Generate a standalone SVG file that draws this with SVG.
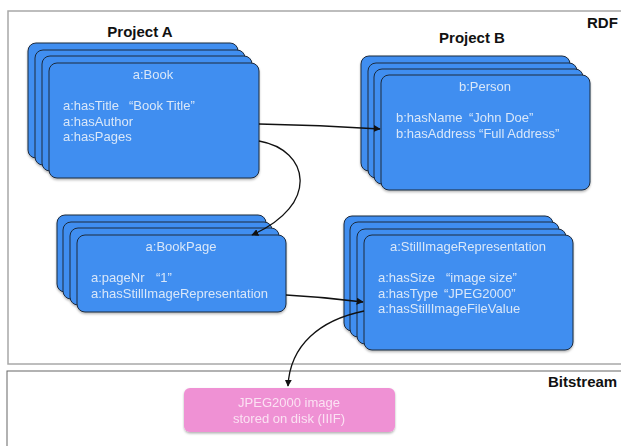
<svg xmlns="http://www.w3.org/2000/svg" width="621" height="446" viewBox="0 0 621 446">
<style>
.card{fill:#3f8ef0;stroke:#1c2a3c;stroke-width:1}
.ct{font-family:"Liberation Sans",Arial,sans-serif;font-size:13px;fill:#d9e7f9}
.ttl{font-family:"Liberation Sans",Arial,sans-serif;font-size:15px;font-weight:bold;fill:#111}
.conn{fill:none;stroke:#111;stroke-width:1.3}
.pt{font-family:"Liberation Sans",Arial,sans-serif;font-size:13px;fill:#fbe2f3}
</style>
<defs>
<marker id="ah" viewBox="0 0 10 10" refX="9" refY="5" markerWidth="7" markerHeight="7" markerUnits="userSpaceOnUse" orient="auto">
<path d="M0,0 L10,5 L0,10 z" fill="#111"/>
</marker>
<filter id="sh" x="-5%" y="-5%" width="112%" height="115%">
<feDropShadow dx="0" dy="1.5" stdDeviation="1.2" flood-color="#000" flood-opacity="0.3"/>
</filter>
</defs>
<rect width="621" height="446" fill="#fff"/>
<g id="frames">
<rect x="8" y="11" width="622" height="353" fill="none" stroke="#a8a8a8" stroke-width="1.5"/>
<rect x="7" y="371" width="622" height="90" fill="none" stroke="#666" stroke-width="1"/>
<text class="ttl" x="587" y="28">RDF</text>
<text class="ttl" x="548" y="387">Bitstream</text>
<text class="ttl" x="140" y="37" text-anchor="middle">Project A</text>
<text class="ttl" x="472" y="43" text-anchor="middle">Project B</text>
</g>
<g id="book" filter="url(#sh)">
<rect class="card" x="28" y="43" width="210" height="115" rx="8"/>
<rect class="card" x="35" y="50" width="210" height="115" rx="8"/>
<rect class="card" x="42" y="56" width="210" height="115" rx="8"/>
<rect class="card" x="49" y="63" width="210" height="115" rx="8"/>
<text class="ct" x="153" y="79" text-anchor="middle">a:Book</text>
<text class="ct" x="63" y="110">a:hasTitle <tspan x="129">“Book Title”</tspan></text>
<text class="ct" x="63" y="126">a:hasAuthor</text>
<text class="ct" x="63" y="141">a:hasPages</text>
</g>
<g id="person" filter="url(#sh)">
<rect class="card" x="361" y="56" width="209" height="115" rx="8"/>
<rect class="card" x="368" y="63" width="209" height="115" rx="8"/>
<rect class="card" x="374" y="69" width="209" height="115" rx="8"/>
<rect class="card" x="381" y="75" width="209" height="115" rx="8"/>
<text class="ct" x="485" y="91" text-anchor="middle">b:Person</text>
<text class="ct" x="396" y="122">b:hasName <tspan x="469">“John Doe”</tspan></text>
<text class="ct" x="396" y="138">b:hasAddress “Full Address”</text>
</g>
<g id="bookpage" filter="url(#sh)">
<rect class="card" x="57" y="215" width="209" height="77" rx="8"/>
<rect class="card" x="63" y="222" width="209" height="77" rx="8"/>
<rect class="card" x="70" y="228" width="209" height="77" rx="8"/>
<rect class="card" x="77" y="235" width="209" height="77" rx="8"/>
<text class="ct" x="181" y="251" text-anchor="middle">a:BookPage</text>
<text class="ct" x="91" y="282">a:pageNr <tspan x="156">“1”</tspan></text>
<text class="ct" x="91" y="298">a:hasStillImageRepresentation</text>
</g>
<g id="stillimage" filter="url(#sh)">
<rect class="card" x="344" y="216" width="209" height="115" rx="8"/>
<rect class="card" x="350" y="222" width="209" height="115" rx="8"/>
<rect class="card" x="357" y="229" width="209" height="115" rx="8"/>
<rect class="card" x="364" y="235" width="209" height="115" rx="8"/>
<text class="ct" x="468" y="251" text-anchor="middle">a:StillImageRepresentation</text>
<text class="ct" x="378" y="282">a:hasSize <tspan x="446">“image size”</tspan></text>
<text class="ct" x="378" y="298">a:hasType <tspan x="444">“JPEG2000”</tspan></text>
<text class="ct" x="378" y="313">a:hasStillImageFileValue</text>
</g>
<g id="jpeg" filter="url(#sh)">
<rect x="184" y="388" width="211" height="44" rx="6" fill="#ef91d4"/>
<text class="pt" x="289" y="407" text-anchor="middle">JPEG2000 image</text>
<text class="pt" x="289" y="423" text-anchor="middle">stored on disk (IIIF)</text>
</g>
<g id="connectors">
<path class="conn" d="M259,124 Q320,125 380,129" marker-end="url(#ah)"/>
<path class="conn" d="M259,141 C310,150 320,205 252,235" marker-end="url(#ah)"/>
<path class="conn" d="M286,295 Q325,297 363,302" marker-end="url(#ah)"/>
<path class="conn" d="M364,311 C320,320 290,345 288,386" marker-end="url(#ah)"/>
</g>
</svg>
